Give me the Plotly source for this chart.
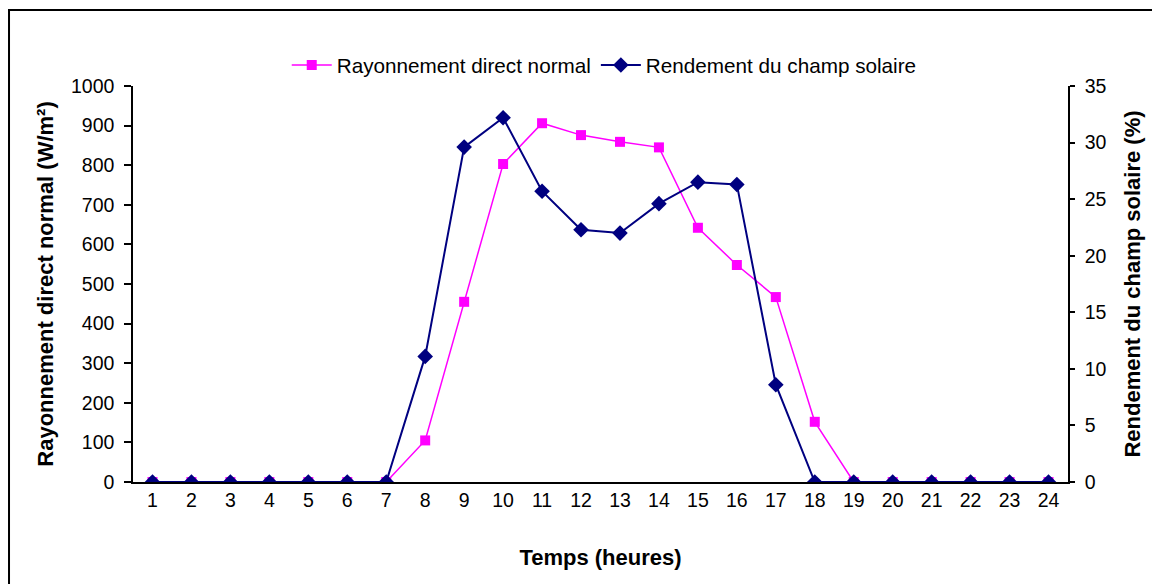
import plotly.graph_objects as go

# hours of the day
heures = list(range(1, 25))

# direct normal irradiance (W/m²)
rayonnement = [0, 0, 0, 0, 0, 0, 0, 105, 455, 803, 906, 876, 859, 845,
               642, 548, 467, 152, 0, 0, 0, 0, 0, 0]

# solar field efficiency (%)
rendement = [0, 0, 0, 0, 0, 0, 0, 11.1, 29.6, 32.2, 25.7, 22.3, 22.0, 24.6,
             26.5, 26.3, 8.6, 0, 0, 0, 0, 0, 0, 0]

y_ticks = list(range(0, 1001, 100))
y2_ticks = list(range(0, 36, 5))
bounds = [h - 0.5 for h in heures] + [24.5]

FONT = "Liberation Sans, Arial, sans-serif"
PINK = "#FF00FF"
NAVY = "#000080"

fig = go.Figure()

fig.add_trace(go.Scatter(
    x=heures, y=rayonnement, name="Rayonnement direct normal",
    mode="lines+markers", line=dict(color=PINK, width=1.5),
    marker=dict(symbol="square", size=10, color=PINK),
    xaxis="x", yaxis="y",
))
fig.add_trace(go.Scatter(
    x=heures, y=rendement, name="Rendement du champ solaire",
    mode="lines+markers", line=dict(color=NAVY, width=2),
    marker=dict(symbol="diamond", size=12, color=NAVY),
    xaxis="x", yaxis="y2",
))

axis_font = dict(family=FONT, size=19.5, color="black")
title_font = dict(family=FONT, size=22, color="black")

# the page body has an 8px margin, so the figure is 8px smaller than the window
fig.update_layout(
    width=1152, height=576,
    margin=dict(l=125, r=92, t=78, b=102),
    paper_bgcolor="white", plot_bgcolor="white",
    font=dict(family=FONT, color="black"),
    showlegend=True,
    legend=dict(orientation="h", x=0.504, y=1.053, xanchor="center",
                yanchor="middle", font=dict(family=FONT, size=20.7),
                bgcolor="rgba(0,0,0,0)", itemwidth=40, tracegroupgap=0),
    xaxis=dict(range=[0.5, 24.5], tickvals=heures, ticks="", showgrid=False,
               zeroline=False, showline=True, linecolor="black", linewidth=1.5,
               tickfont=axis_font,
               title=dict(text="<b>Temps (heures)</b>", font=title_font, standoff=39)),
    xaxis3=dict(range=[0.5, 24.5], overlaying="x", anchor="y", side="bottom",
                tickvals=bounds, ticks="outside", ticklen=6, tickwidth=1.5,
                tickcolor="black", showticklabels=False, showgrid=False,
                zeroline=False, showline=False),
    xaxis4=dict(range=[0.5, 24.5], overlaying="x", anchor="y", side="bottom",
                tickvals=bounds, ticks="inside", ticklen=5, tickwidth=1.5,
                tickcolor="black", showticklabels=False, showgrid=False,
                zeroline=False, showline=False),
    yaxis=dict(range=[0, 1000], tickvals=y_ticks, ticks="outside", ticklen=7,
               tickwidth=1.5, tickcolor="black", showgrid=False, zeroline=False,
               showline=True, linecolor="black", linewidth=1.5, tickfont=axis_font,
               ticklabelstandoff=6,
               title=dict(text="<b>Rayonnement direct normal (W/m²)</b>",
                          font=title_font, standoff=11)),
    yaxis3=dict(range=[0, 1000], overlaying="y", anchor="x", side="left",
                tickvals=y_ticks, ticks="inside", ticklen=4, tickwidth=1.5,
                tickcolor="black", showticklabels=False, showgrid=False,
                zeroline=False, showline=False),
    yaxis2=dict(range=[0, 35], tickvals=y2_ticks, overlaying="y", side="right",
                anchor="x", ticks="outside", ticklen=5, tickwidth=1.5,
                tickcolor="black", showgrid=False, zeroline=False, showline=True,
                linecolor="black", linewidth=1.5, tickfont=axis_font,
                ticklabelstandoff=6,
                title=dict(text="<b>Rendement du champ solaire (%)</b>",
                           font=title_font, standoff=19)),
    yaxis4=dict(range=[0, 35], overlaying="y", anchor="x", side="right",
                tickvals=y2_ticks, ticks="inside", ticklen=7, tickwidth=1.5,
                tickcolor="black", showticklabels=False, showgrid=False,
                zeroline=False, showline=False),
)

# outer chart frame (cut by the right and bottom edges of the picture)
fig.add_shape(type="rect", xref="paper", yref="paper",
              x0=-0.1326, x1=1.2, y0=-0.5, y1=1.1919,
              line=dict(color="black", width=2), fillcolor="rgba(0,0,0,0)",
              layer="below")

fig.write_html("out.html")
